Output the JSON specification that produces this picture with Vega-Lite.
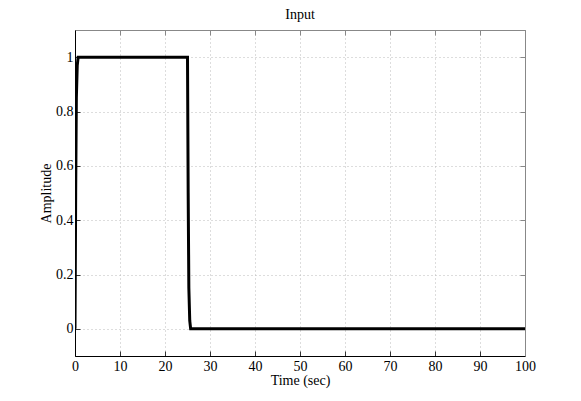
{
  "$schema": "https://vega.github.io/schema/vega-lite/v6.json",
  "width": 450,
  "height": 326,
  "autosize": {"type": "none"},
  "padding": {"left": 75, "top": 30, "right": 56, "bottom": 45},
  "background": "white",
  "title": {"text": "Input", "font": "Liberation Serif", "fontSize": 14, "fontWeight": "normal", "color": "black", "offset": 8},
  "config": {
    "view": {"stroke": "#888888", "strokeWidth": 1},
    "axis": {
      "labelFont": "Liberation Serif", "labelFontSize": 14, "labelColor": "black",
      "titleFont": "Liberation Serif", "titleFontSize": 14, "titleFontWeight": "normal", "titleColor": "black",
      "gridColor": "#bbbbbb", "gridDash": [1, 3], "gridOpacity": 1,
      "tickColor": "#333333", "domainColor": "black"
    }
  },
  "data": {"values": [
    {"t": 0, "u": 0},
    {"t": 0.15, "u": 0.5},
    {"t": 0.3, "u": 0.85},
    {"t": 0.5, "u": 0.97},
    {"t": 0.7, "u": 1},
    {"t": 25, "u": 1},
    {"t": 25.15, "u": 0.5},
    {"t": 25.3, "u": 0.15},
    {"t": 25.5, "u": 0.03},
    {"t": 25.7, "u": 0},
    {"t": 100, "u": 0}
  ]},
  "layer": [
    {
      "mark": {"type": "line", "color": "black", "strokeWidth": 3, "clip": true},
      "encoding": {
        "x": {"field": "t", "type": "quantitative", "title": "Time (sec)",
              "scale": {"domain": [0, 100], "nice": false, "zero": false},
              "axis": {"orient": "bottom", "values": [0,10,20,30,40,50,60,70,80,90,100], "grid": true, "tickSize": -5, "labelPadding": 8, "titlePadding": 0, "labelFlush": false}},
        "y": {"field": "u", "type": "quantitative", "title": "Amplitude",
              "scale": {"domain": [-0.1, 1.1], "nice": false, "zero": false},
              "axis": {"orient": "left", "values": [0, 0.2, 0.4, 0.6, 0.8, 1], "grid": true, "tickSize": -5, "labelPadding": 7, "titlePadding": 2, "labelExpr": "format(datum.value, '~g')"}}
      }
    },
    {
      "mark": {"type": "point", "opacity": 0},
      "encoding": {
        "x": {"field": "t", "type": "quantitative",
              "axis": {"orient": "top", "values": [0,10,20,30,40,50,60,70,80,90,100], "labels": false, "title": null, "grid": false, "tickSize": -5, "domainColor": "#888888", "tickColor": "#888888"}},
        "y": {"field": "u", "type": "quantitative",
              "axis": {"orient": "right", "values": [0, 0.2, 0.4, 0.6, 0.8, 1], "labels": false, "title": null, "grid": false, "tickSize": -5, "domainColor": "#888888", "tickColor": "#888888"}}
      }
    }
  ],
  "resolve": {"axis": {"x": "independent", "y": "independent"}}
}
